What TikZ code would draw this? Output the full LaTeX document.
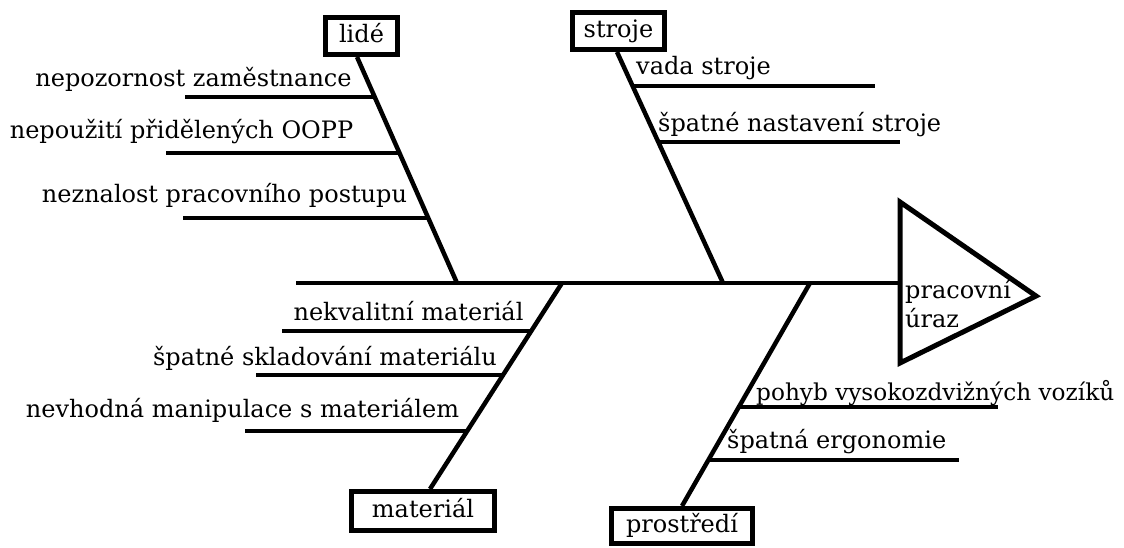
\documentclass[tikz,border=0pt]{standalone}
\usepackage{fontspec}
\setmainfont{DejaVu Serif}
\begin{document}
\begin{tikzpicture}[x=1pt,y=-1pt,
  bone/.style={line width=4.5pt},
  box/.style={draw, line width=5pt, inner sep=0pt, text height=17.5pt, text depth=5pt,
    font=\fontsize{24}{28}\selectfont},
  lbl/.style={anchor=base, inner sep=0pt, font=\fontsize{24}{28}\selectfont}
]
\useasboundingbox (0,0) rectangle (1124,548);

% category boxes
\node[box, minimum width=72pt, minimum height=37pt] (lide) at (361.5,36) {lidé};
\node[box, minimum width=92pt, minimum height=37pt] (stroje) at (618.5,31) {stroje};
\node[box, minimum width=143pt, minimum height=39pt] (material) at (423,511) {materiál};
\node[box, minimum width=141pt, minimum height=35pt] (prostredi) at (682,526) {prostředí};

% spine and effect
\coordinate (spL) at (296,283);
\coordinate (spR) at (900,283);
\coordinate (tA) at (900,202);
\coordinate (tB) at (1036,296);
\coordinate (tC) at (900,363);
\draw[bone] (spL) -- (spR);
\draw[line width=5pt] (tA) -- (tB) -- (tC) -- cycle;
\node[lbl, anchor=base west] (ef1) at (905,298) {pracovní};
\node[lbl, anchor=base west] (ef2) at (905,327) {úraz};

% bone junctions on spine
\coordinate (jL) at (457,283);
\coordinate (jS) at (723,283);
\coordinate (jM) at (562,283);
\coordinate (jP) at (810,283);

\draw[bone] ([xshift=-4.5pt]lide.south) -- (jL);
\draw[bone] ([xshift=-1.5pt]stroje.south) -- (jS);
\draw[bone] (jM) -- ([xshift=7pt]material.north);
\draw[bone] (jP) -- (prostredi.north);

% lidé branches
\coordinate (l1) at (374.5,97);  \coordinate (l1e) at (185,97);
\coordinate (l2) at (399.5,153); \coordinate (l2e) at (166,153);
\coordinate (l3) at (428.5,218); \coordinate (l3e) at (183,218);
\draw[bone] (l1) -- (l1e);
\draw[bone] (l2) -- (l2e);
\draw[bone] (l3) -- (l3e);
\node[lbl] (t1) at (193.5,87) {nepozornost zaměstnance};
\node[lbl] (t2) at (181.5,139) {nepoužití přidělených OOPP};
\node[lbl] (t3) at (224.5,203) {neznalost pracovního postupu};

% stroje branches
\coordinate (s1) at (632.5,86);  \coordinate (s1e) at (875,86);
\coordinate (s2) at (658.5,142); \coordinate (s2e) at (900,142);
\draw[bone] (s1) -- (s1e);
\draw[bone] (s2) -- (s2e);
\node[lbl, anchor=base west] (t4) at (636,75) {vada stroje};
\node[lbl, anchor=base west] (t5) at (658,132) {špatné nastavení stroje};

% materiál branches
\coordinate (m1) at (531.5,331); \coordinate (m1e) at (282,331);
\coordinate (m2) at (503,375);   \coordinate (m2e) at (256,375);
\coordinate (m3) at (467,431);   \coordinate (m3e) at (245,431);
\draw[bone] (m1) -- (m1e);
\draw[bone] (m2) -- (m2e);
\draw[bone] (m3) -- (m3e);
\node[lbl] (t6) at (408.5,320) {nekvalitní materiál};
\node[lbl] (t7) at (325,365) {špatné skladování materiálu};
\node[lbl] (t8) at (242.5,417) {nevhodná manipulace s materiálem};

% prostředí branches
\coordinate (p1) at (738.5,407); \coordinate (p1e) at (998,407);
\coordinate (p2) at (708,460);   \coordinate (p2e) at (959,460);
\draw[bone] (p1) -- (p1e);
\draw[bone] (p2) -- (p2e);
\node[lbl, anchor=base west, font=\fontsize{23.2}{28}\selectfont] (t9) at (756,400) {pohyb vysokozdvižných vozíků};
\node[lbl, anchor=base west] (t10) at (727,448) {špatná ergonomie};
\end{tikzpicture}
\end{document}
